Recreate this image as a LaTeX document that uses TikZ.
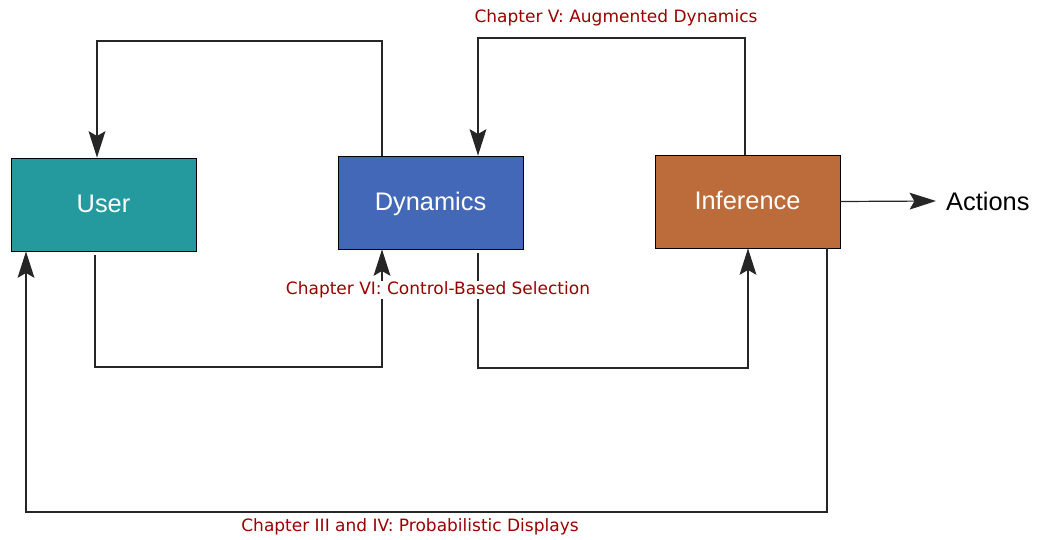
\documentclass[tikz,border=0pt]{standalone}
\usepackage{fontspec}
\setmainfont{Liberation Sans}
\newfontfamily\labelfont{DejaVu Sans}
\usetikzlibrary{arrows.meta}
\definecolor{userc}{HTML}{249A9E}
\definecolor{dync}{HTML}{4468B8}
\definecolor{infc}{HTML}{BC6C3A}
\definecolor{chapc}{HTML}{990000}
\tikzset{
  blk/.style={draw=black, line width=0.8pt, minimum width=185pt, minimum height=93pt, inner sep=0pt, text=white, font=\fontsize{25.4}{28}\selectfont, text height=22pt, text depth=5pt},
  arr/.style={-{Stealth[length=22pt,width=14pt,inset=4pt,scale=1.2]}, line width=1.2pt, draw=black!85},
  chap/.style={text=chapc, font=\labelfont\fontsize{17}{20}\selectfont, fill=white, inner sep=1pt}
}
\begin{document}
\begin{tikzpicture}[x=1pt,y=-1pt]
\useasboundingbox (0,0) rectangle (1037,540);
\node[blk, fill=userc] (user) at (103.5,204.5) {User};
\node[blk, fill=dync] (dyn) at (430.5,202.5) {Dynamics};
\node[blk, fill=infc] (inf) at (747.5,201.5) {Inference};
\node[anchor=west, inner sep=0pt, font=\fontsize{25.4}{28}\selectfont] (act) at (946,201) {Actions};
% top loops
\draw[arr] ([xshift=-48.5pt]dyn.north) -- ([xshift=-48.5pt]dyn.north |- 0,41) -| ([xshift=-6.5pt]user.north);
\draw[arr] ([xshift=-2.5pt]inf.north) -- ([xshift=-2.5pt]inf.north |- 0,38) -| ([xshift=47.5pt]dyn.north);
% bottom loops
\draw[arr] ([xshift=-8.5pt,yshift=-4pt]user.south) -- ([xshift=-8.5pt]user.south |- 0,367) -| ([xshift=-48.5pt]dyn.south);
\draw[arr] ([xshift=47.5pt,yshift=-4pt]dyn.south) -- ([xshift=47.5pt]dyn.south |- 0,368) -| ([xshift=0.5pt]inf.south);
\draw[arr] ([xshift=79.5pt]inf.south) -- ([xshift=79.5pt]inf.south |- 0,512) -| ([xshift=-77.5pt]user.south);
% actions
\draw[arr] (inf.east) -- ([xshift=-10pt]act.west);
% labels
\node[chap, fill=none] (l5) at (616,18) {Chapter V: Augmented Dynamics};
\node[chap] (l6) at (438,290) {Chapter VI: Control-Based Selection};
\node[chap, fill=none] (l34) at (410,527) {Chapter III and IV: Probabilistic Displays};
\end{tikzpicture}
\end{document}
